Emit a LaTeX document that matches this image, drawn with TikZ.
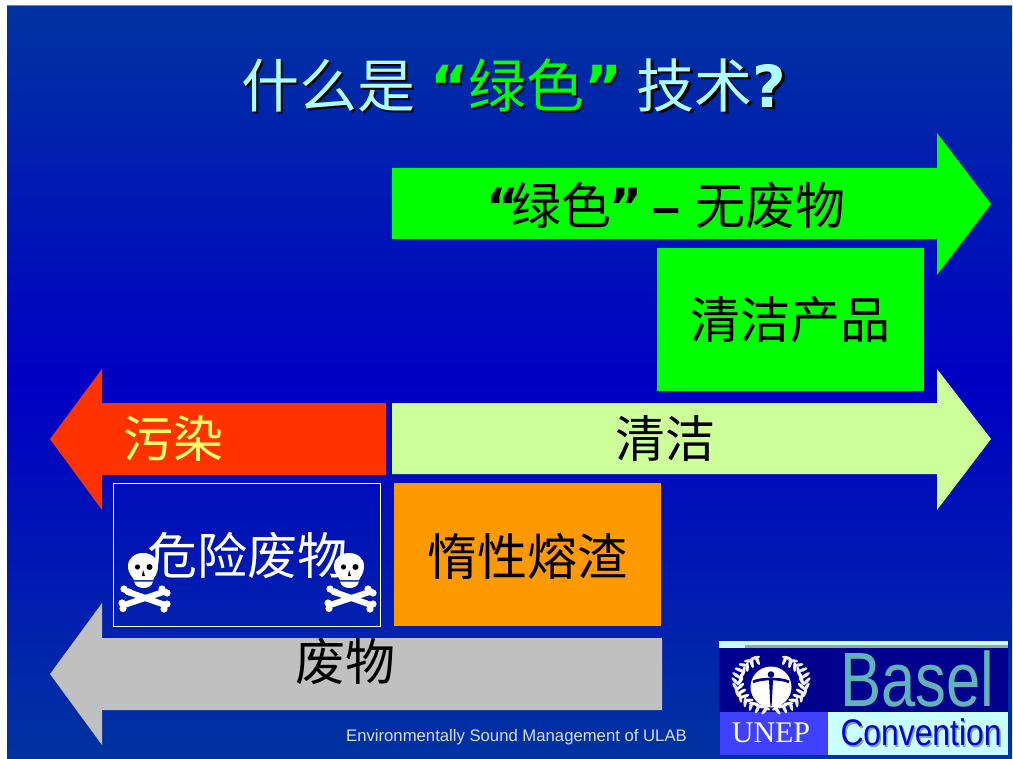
\documentclass[tikz,border=0pt]{standalone}
\usepackage{fontspec}
\setmainfont{Liberation Sans}
\newfontfamily\cjk{Noto Sans CJK SC}
\newfontfamily\serifl{Liberation Serif}
\newfontfamily\heavy{DejaVu Sans Bold}
\newcommand\pxs[1]{\fontsize{\dimexpr#1pt*3/4\relax}{\dimexpr#1pt\relax}\selectfont}
\definecolor{bgedge}{HTML}{0033A0}
\definecolor{bgmid}{HTML}{0000C4}
\definecolor{titlec}{HTML}{B0FFFF}
\definecolor{glow}{HTML}{00FF00}
\definecolor{pale}{HTML}{CCFF99}
\definecolor{redc}{HTML}{FF3300}
\definecolor{orangec}{HTML}{FF9900}
\definecolor{greyc}{HTML}{C0C0C0}
\definecolor{yellowc}{HTML}{FFFF66}
\definecolor{navy}{HTML}{00008C}
\definecolor{unepblue}{HTML}{4040FF}
\definecolor{lightcy}{HTML}{C8FFFF}
\definecolor{tealc}{HTML}{60B4B8}
\definecolor{footc}{HTML}{D4DCF0}
\newcommand\TitleText[2]{{\cjk\color{#1}什么是}\hspace{11pt}{\color{#2}\heavy “}{\cjk\color{#2}绿色}{\color{#2}\heavy ”}\hspace{11pt}{\cjk\color{#1}技术}{\color{#1}\heavy ?}}
\tikzset{
  label/.style={inner sep=0pt,text=black,font=\pxs{50}\cjk},
  titletext/.style={inner sep=0pt,font=\pxs{58}},
  bone/.style={draw=white,line width=4.5pt,line cap=round},
}
\begin{document}
\begin{tikzpicture}[x=0.75pt,y=-0.75pt]
\useasboundingbox (0,0) rectangle (1013,759);
\fill[white] (0,0) rectangle (1013,759);
\shade[top color=bgedge,bottom color=bgedge,middle color=bgmid] (7,6) rectangle (1012,759);
\draw[gray,line width=0.75pt] (7,5.5) -- (1012,5.5);
% title
\node[titletext,text=black] (titleshadow) at (516.5,87.5) {\TitleText{black}{black}};
\node[titletext] (title) at (514,85) {\TitleText{titlec}{glow}};
% arrows
\fill[glow] (392,168) -- (937,168) -- (937,133) -- (991,204) -- (937,275) -- (937,239) -- (392,239) -- cycle;
\fill[pale] (392,403) -- (937,403) -- (937,369) -- (991,439) -- (937,510) -- (937,474) -- (392,474) -- cycle;
\fill[redc] (386,403) -- (102,403) -- (102,369) -- (50,439) -- (102,510) -- (102,475) -- (386,475) -- cycle;
\fill[greyc] (662,638) -- (102,638) -- (102,603) -- (50,674) -- (102,745) -- (102,710) -- (662,710) -- cycle;
% boxes
\fill[glow] (657,248) rectangle (924,391);
\fill[orangec] (394,483) rectangle (661,626);
\draw[white,line width=0.75pt] (113.5,483.5) rectangle (380.5,626);
% labels
\node[label] (l1) at (666,206) {{\heavy “}\hspace{-6.5pt}绿色\hspace{-1pt}{\heavy ”}\hspace{7.5pt}{\rmfamily\bfseries –}\hspace{11pt}无废物};
\node[label] (l2) at (790,320) {清洁产品};
\node[label] (l3) at (665,439) {清洁};
\node[label,text=yellowc] (l4) at (173,438) {污染};
\node[label,text=white] (l5) at (247,555) {危险废物};
\node[label] (l6) at (527,556) {惰性熔渣};
\node[label] (l7) at (345,662) {废物};
% skulls
\foreach \dx in {0,206}{
\begin{scope}[shift={(\dx,0)}]
  \draw[bone] (124,605) -- (165,591.5);
  \draw[bone] (127,591.5) -- (165,605);
  \foreach \p in {(122,603),(123,608.5),(162,589),(167,593),(124,589),(129,592),(164,609),(167,604)}
    \fill[white] \p circle (3.6);
  \fill[white] (128,566) .. controls (128,558) and (135,553) .. (143,553) .. controls (151,553) and (158,558) .. (158,566) .. controls (158,574) and (154,577) .. (153,580) -- (134,580) .. controls (133,577) and (128,574) .. (128,566) -- cycle;
  \fill[white] (134,581.5) -- (153,581.5) .. controls (152,586) and (148,588) .. (143.5,588) .. controls (139,588) and (135,586) .. (134,581.5) -- cycle;
  \fill[black] (137.5,567) circle (2.6);
  \fill[black] (149.5,567) circle (3);
  \fill[black] (143,570) -- (145,576) -- (142,576) -- cycle;
\end{scope}}
% footer
\node[inner sep=0pt,text=footc,font=\pxs{16.7}] (footer) at (516.5,737) {Environmentally Sound Management of ULAB};
% logo
\fill[lightcy] (719,641) rectangle (1008,648);
\fill[gray!70!lightcy] (745,645) rectangle (1008,648);
\fill[navy] (719,648) rectangle (1008,712);
\fill[unepblue] (720,712) rectangle (828,755);
\fill[lightcy] (828,712) rectangle (1008,755);
\foreach \t in {100,112,...,245}{
  \fill[white,shift={({771+31*cos(\t)},{683+25*sin(\t)})},rotate=\t+50] (0,0) ellipse (5 and 1.7);
  \fill[white!85!gray,shift={({771+36*cos(\t)},{683+28*sin(\t)})},rotate=\t-50] (0,0) ellipse (5 and 1.7);
}
\foreach \t in {80,68,...,-65}{
  \fill[white,shift={({771+31*cos(\t)},{683+25*sin(\t)})},rotate=\t-50] (0,0) ellipse (5 and 1.7);
  \fill[white!85!gray,shift={({771+36*cos(\t)},{683+28*sin(\t)})},rotate=\t+50] (0,0) ellipse (5 and 1.7);
}
\fill[white] (771,687) circle (20.5);
\fill[navy] (771,674.5) circle (3.3);
\draw[navy,line width=2pt] (753,682) .. controls (760,678) and (782,678) .. (789,682);
\fill[navy] (769,680) -- (773,680) -- (771.6,706) -- (770.4,706) -- cycle;
\node[inner sep=0pt,text=white!90!lightcy,font=\serifl\pxs{30}] (unep) at (771,733) {UNEP};
\node[inner sep=0pt,text=tealc,font=\pxs{77}] (basel) at (917.5,679) {\scalebox{.8}[1]{Basel}};
\node[inner sep=0pt,text=black!35!lightcy,font=\pxs{37}] (convshadow) at (922.5,734) {\scalebox{.86}[1]{Convention}};
\node[inner sep=0pt,text=blue!85!black,font=\pxs{37}] (conv) at (921,732.5) {\scalebox{.86}[1]{Convention}};
\end{tikzpicture}
\end{document}
